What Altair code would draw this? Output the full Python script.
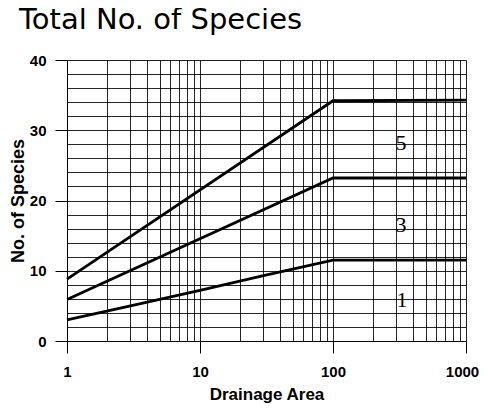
import altair as alt
import pandas as pd

# data
area_1 = [1, 3, 10, 30, 100, 1000]
species_1 = [3.0, 5.0, 7.2, 9.3, 11.5, 11.5]
area_3 = [1, 100, 1000]
species_3 = [5.9, 23.2, 23.2]
area_5 = [1, 100, 1000]
species_5 = [8.8, 34.2, 34.3]

label_text = ["5", "3", "1"]
label_x = [325, 325, 330]
label_y = [28.2, 16.5, 5.8]

x_major = [1, 10, 100, 1000]
x_grid = [m * d for d in [1, 10, 100] for m in range(1, 10)] + [1000]
y_grid = list(range(0, 41, 2))

rows = []
for name, xs, ys in [("1", area_1, species_1), ("3", area_3, species_3), ("5", area_5, species_5)]:
    for a, s in zip(xs, ys):
        rows.append({"series": name, "area": a, "species": s})
df = pd.DataFrame(rows)
lab = pd.DataFrame({"text": label_text, "area": label_x, "species": label_y})

FONT = "Liberation Sans"

xscale = alt.Scale(type="log", domain=[1, 1000], nice=False)
yscale = alt.Scale(domain=[0, 40], nice=False)

xaxis = alt.Axis(
    values=x_grid,
    tickCount=len(x_grid),
    labelExpr="indexof([1,10,100,1000], datum.value) >= 0 ? datum.label : ''",
    format="d",
    grid=True,
    gridColor="#000",
    gridOpacity=0.85,
    gridWidth=1,
    tickSize=12,
    tickColor="#000",
    tickOpacity={"condition": {"test": "indexof([1,10,100,1000], datum.value) < 0", "value": 0}, "value": 1},
    labelPadding=11,
    labelOffset={"condition": {"test": "datum.value == 1000", "value": -4}, "value": 0},
    labelFont=FONT,
    labelFontSize=15,
    labelFontWeight="bold",
    labelColor="#000",
    labelFlush=False,
    labelOverlap=False,
    domain=True,
    domainColor="#000",
    title="Drainage Area",
    titleFont=FONT,
    titleFontSize=17,
    titleFontWeight="bold",
    titleColor="#000",
    titlePadding=7,
)

yaxis = alt.Axis(
    values=y_grid,
    tickCount=len(y_grid),
    labelExpr="datum.value % 10 == 0 ? datum.label : ''",
    grid=True,
    gridColor="#000",
    gridOpacity=0.85,
    gridWidth=1,
    tickSize=12,
    tickColor="#000",
    tickOpacity={"condition": {"test": "datum.value % 10 != 0", "value": 0}, "value": 1},
    labelPadding=9,
    labelFont=FONT,
    labelFontSize=15,
    labelFontWeight="bold",
    labelColor="#000",
    labelOverlap=False,
    domain=True,
    domainColor="#000",
    title="No. of Species",
    titleFont=FONT,
    titleFontSize=18,
    titleFontWeight="bold",
    titleColor="#000",
    titlePadding=2,
)

lines = alt.Chart(df).mark_line(color="#000", strokeWidth=2.8).encode(
    x=alt.X("area:Q", scale=xscale, axis=xaxis),
    y=alt.Y("species:Q", scale=yscale, axis=yaxis),
    detail="series:N",
)

labels = alt.Chart(lab).mark_text(
    font="Liberation Serif", fontSize=22, color="#000", align="center", baseline="middle"
).encode(
    x=alt.X("area:Q", scale=xscale),
    y=alt.Y("species:Q", scale=yscale),
    text="text:N",
)

chart = (
    alt.layer(lines, labels)
    .properties(
        width=399,
        height=281,
        autosize=alt.AutoSizeParams(type="none"),
        padding={"left": 59, "top": 52, "right": 13, "bottom": 65},
        title=alt.Title(
            "Total No. of Species",
            font="DejaVu Sans",
            fontSize=29,
            fontWeight="normal",
            color="#000",
            anchor="start",
            frame="group",
            dx=-48,
            offset=18,
        ),
    )
    .configure_view(stroke="#000", strokeWidth=1)
    .configure(background="white")
)

chart.save("out.html", embed_options={"renderer": "svg", "actions": False})
